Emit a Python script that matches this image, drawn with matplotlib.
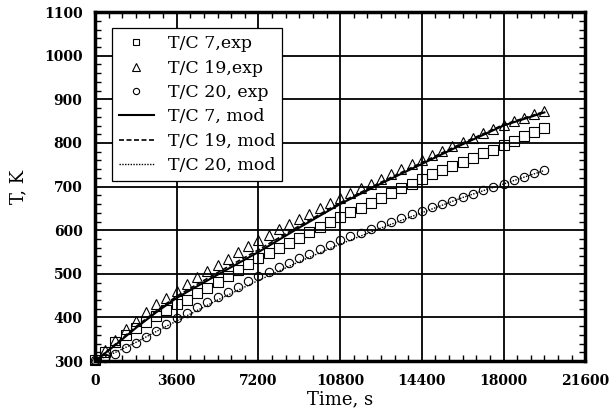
import matplotlib
matplotlib.use('Agg')
import matplotlib.pyplot as plt
from matplotlib.ticker import MultipleLocator
import numpy as np

# measured points, every 450 s
t_exp = np.arange(0, 19801, 450)
tc7_exp = [303, 321, 344, 360, 375, 389, 404, 417, 430, 441,
           455, 468, 482, 496, 509, 523, 536, 548, 560, 571,
           583, 595, 607, 618, 630, 641, 652, 663, 674, 685,
           696, 707, 718, 728, 737, 747, 757, 766, 776, 785,
           795, 805, 815, 825, 834]
tc19_exp = [305, 325, 348, 373, 392, 412, 430, 445, 461, 477,
            492, 506, 520, 535, 549, 563, 578, 590, 602, 614,
            626, 638, 650, 662, 674, 685, 696, 707, 718, 729,
            740, 751, 762, 772, 782, 792, 802, 812, 822, 832,
            842, 850, 858, 866, 873]
tc20_exp = [303, 307, 316, 329, 341, 356, 369, 384, 398, 411,
            423, 435, 447, 459, 471, 483, 495, 505, 515, 526,
            536, 546, 556, 567, 577, 586, 594, 603, 611, 620,
            628, 637, 645, 653, 661, 668, 676, 684, 692, 699,
            707, 715, 723, 731, 738]

# model curves
t_mod = [0, 900, 1800, 2700, 3600, 5400, 7200, 9000, 10800,
         12600, 14400, 16200, 18000, 19800]
tc7_mod = [300, 337, 376, 412, 445, 498, 550, 606, 660,
           707, 752, 797, 840, 870]
tc19_mod = [300, 339, 379, 415, 449, 503, 555, 610, 663,
            710, 755, 800, 842, 872]
tc20_mod = [300, 320, 343, 368, 392, 440, 485, 528, 568,
            605, 640, 675, 706, 737]

plt.rcParams['font.family'] = 'DejaVu Serif'

fig = plt.figure(figsize=(6.09, 4.17), dpi=100)
ax = fig.add_axes([0.156, 0.134, 0.805, 0.837])

mk = dict(linestyle='none', markerfacecolor='none', markeredgecolor='black',
          markeredgewidth=0.8, clip_on=False, zorder=3)
ax.plot(t_exp, tc7_exp, marker='s', markersize=6.5, label='T/C 7,exp', **mk)
ax.plot(t_exp, tc19_exp, marker='^', markersize=7, label='T/C 19,exp', **mk)
ax.plot(t_exp, tc20_exp, marker='o', markersize=6, label='T/C 20, exp', **mk)

ax.plot(t_mod, tc7_mod, color='black', lw=1.5, label='T/C 7, mod', zorder=4)
ax.plot(t_mod, tc19_mod, color='black', lw=1.2, ls=(0, (3, 1.5)),
        label='T/C 19, mod', zorder=4)
ax.plot(t_mod, tc20_mod, color='black', lw=1.0, ls=(0, (1, 1)),
        label='T/C 20, mod', zorder=4)

ax.set_xlim(0, 21600)
ax.set_ylim(300, 1100)
ax.xaxis.set_major_locator(MultipleLocator(3600))
ax.xaxis.set_minor_locator(MultipleLocator(600))
ax.yaxis.set_major_locator(MultipleLocator(100))
ax.yaxis.set_minor_locator(MultipleLocator(20))
ax.grid(True, which='major', color='black', lw=1.3)
ax.set_axisbelow(True)

ax.tick_params(which='both', direction='in', top=True, right=True,
               color='black')
ax.tick_params(which='major', length=0, labelsize=10, pad=9)
ax.tick_params(which='minor', length=4, width=1)
for lab in ax.get_xticklabels() + ax.get_yticklabels():
    lab.set_fontweight('bold')
for sp in ax.spines.values():
    sp.set_linewidth(2.5)

ax.set_xlabel('Time, s', fontsize=13, labelpad=2)
ax.set_ylabel('T, K', fontsize=13, labelpad=12)

leg = ax.legend(loc='upper left', bbox_to_anchor=(0.035, 0.953), fontsize=12.5,
                frameon=True, fancybox=False, edgecolor='black', framealpha=1,
                labelspacing=0.42, handlelength=2.0, handletextpad=0.8,
                borderpad=0.4, borderaxespad=0, markerscale=0.75)
leg.get_frame().set_linewidth(0.9)

fig.savefig('out.png', dpi=100)
